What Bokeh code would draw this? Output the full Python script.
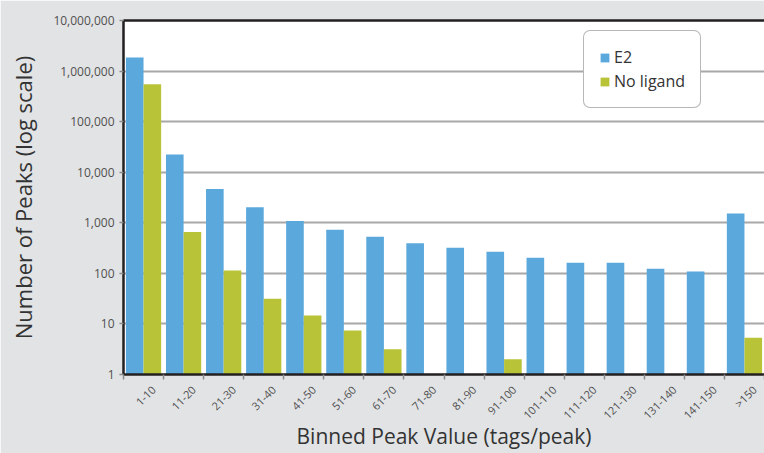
import math
from bokeh.plotting import figure
from bokeh.models import (ColumnDataSource, Range1d, FixedTicker, NumeralTickFormatter,
                          LinearAxis, Legend, LegendItem)
from bokeh.transform import dodge
from bokeh.embed import file_html
from bokeh.resources import INLINE

categories = ["1-10", "11-20", "21-30", "31-40", "41-50", "51-60", "61-70", "71-80",
              "81-90", "91-100", "101-110", "111-120", "121-130", "131-140", "141-150", ">150"]
e2 = [1850000, 22500, 4660, 2030, 1090, 725, 527, 396, 320, 267, 203, 162, 162, 123, 109, 1520]
no_ligand = [550000, 660, 114, 31.5, 14.6, 7.4, 3.15, None, None, 2.0, None, None, None, None, None, 5.3]
y_ticks = [1, 10, 100, 1000, 10000, 100000, 1000000, 10000000]

BLUE = "#5ba8dc"
GREEN = "#b9c337"
BG = "#e2e3e5"
FONT = "Open Sans"

idx = list(range(len(categories)))
src_e2 = ColumnDataSource(dict(x=idx, top=e2))
gi = [i for i, v in enumerate(no_ligand) if v is not None]
src_nl = ColumnDataSource(dict(x=gi, top=[no_ligand[i] for i in gi]))

p = figure(width=764, height=453, output_backend="svg", toolbar_location=None,
           y_axis_type="log", x_range=Range1d(-0.5, len(categories) - 0.5),
           y_range=Range1d(1, 1e7), x_axis_type="linear")
p.min_border_left = 123
p.min_border_right = 0
p.min_border_top = 20
p.min_border_bottom = 79
p.background_fill_color = "white"
p.border_fill_color = BG
p.outline_line_color = None

r1 = p.vbar(x=dodge("x", -0.22, range=p.x_range), top="top", bottom=1, width=0.44,
            source=src_e2, fill_color=BLUE, line_color=None)
r2 = p.vbar(x=dodge("x", 0.22, range=p.x_range), top="top", bottom=1, width=0.44,
            source=src_nl, fill_color=GREEN, line_color=None)

# y axis
yax = p.yaxis[0]
yax.ticker = FixedTicker(ticks=y_ticks, minor_ticks=[])
yax.formatter = NumeralTickFormatter(format="0,0")
yax.major_label_text_font = FONT
yax.major_label_text_font_size = "12px"
yax.major_label_text_color = "#505050"
yax.major_tick_in = 0
yax.major_tick_out = 4
yax.major_tick_line_color = "#8a8a8a"
yax.major_tick_line_width = 1.5
yax.minor_tick_line_color = None
yax.axis_line_color = "#231f20"
yax.axis_line_width = 2.5
yax.axis_label = "Number of Peaks (log scale)"
yax.axis_label_text_font = FONT
yax.axis_label_text_font_size = "22px"
yax.axis_label_text_font_style = "normal"
yax.axis_label_text_color = "#333333"
yax.axis_label_standoff = 12

# x axis: labels sit slightly right of each category centre, as in the original
label_pos = [i + 0.25 for i in idx]
xax = p.xaxis[0]
xax.ticker = FixedTicker(ticks=label_pos, minor_ticks=[i - 0.5 for i in range(len(categories) + 1)])
xax.major_label_overrides = {pos: c for pos, c in zip(label_pos, categories)}
xax.major_label_orientation = math.pi / 4
xax.major_label_text_font = FONT
xax.major_label_text_font_size = "11px"
xax.major_label_text_color = "#505050"
xax.major_label_standoff = 8
xax.major_tick_line_color = None
xax.major_tick_in = 0
xax.major_tick_out = 5
xax.minor_tick_in = 0
xax.minor_tick_out = 5
xax.minor_tick_line_color = "#8a8a8a"
xax.minor_tick_line_width = 1.5
xax.axis_line_color = "#231f20"
xax.axis_line_width = 2.5
xax.axis_label = "Binned Peak Value (tags/peak)"
xax.axis_label_text_font = FONT
xax.axis_label_text_font_size = "21px"
xax.axis_label_text_font_style = "normal"
xax.axis_label_text_color = "#333333"
xax.axis_label_standoff = -8

# top border
top = LinearAxis(major_tick_line_color=None, minor_tick_line_color=None,
                 major_label_text_font_size="0px", axis_line_color="#231f20",
                 axis_line_width=2.5, ticker=FixedTicker(ticks=[]))
p.add_layout(top, "above")

p.xgrid.grid_line_color = None
p.ygrid.ticker = FixedTicker(ticks=y_ticks)
p.ygrid.grid_line_color = "#a8a8a8"
p.ygrid.grid_line_width = 2

legend = Legend(items=[LegendItem(label="E2", renderers=[r1]),
                       LegendItem(label="No ligand", renderers=[r2])],
                location=(460, 266), glyph_width=11, glyph_height=11,
                label_standoff=4, padding=15, spacing=2, label_height=20,
                label_text_font=FONT, label_text_font_size="16px",
                label_text_color="#333333", border_line_color="#707070",
                border_line_width=1.5, background_fill_color="white",
                background_fill_alpha=1.0, margin=0)
if "border_radius" in Legend.properties():
    legend.border_radius = 7
p.add_layout(legend, "center")

open("out.html", "w").write(file_html(p, INLINE))
